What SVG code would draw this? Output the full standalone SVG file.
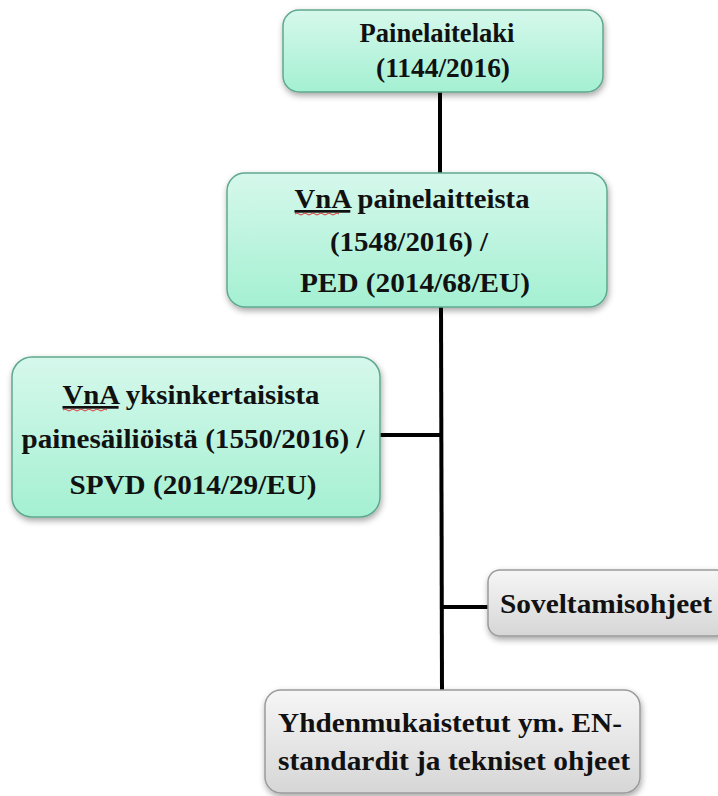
<svg xmlns="http://www.w3.org/2000/svg" width="718" height="796" viewBox="0 0 718 796">
<style>
.t{font-family:"Liberation Serif","Times New Roman",serif;font-weight:bold;font-size:27px;fill:#111;text-anchor:middle}
.g{fill:url(#gg);stroke:#5fa88d;stroke-width:1.5}
.s{fill:url(#gs);stroke:#9a9a9a;stroke-width:1.5}
.c{stroke:#000;stroke-width:4;fill:none}
</style>
<defs>
<linearGradient id="gg" x1="0" y1="0" x2="0" y2="1">
<stop offset="0" stop-color="#d6f8ec"/>
<stop offset="1" stop-color="#a4f0d2"/>
</linearGradient>
<linearGradient id="gs" x1="0" y1="0" x2="0" y2="1">
<stop offset="0" stop-color="#f6f6f6"/>
<stop offset="1" stop-color="#d6d6d6"/>
</linearGradient>
<filter id="sh" x="-10%" y="-10%" width="120%" height="130%">
<feDropShadow dx="1" dy="3" stdDeviation="3" flood-color="#000" flood-opacity="0.35"/>
</filter>
</defs>
<rect width="718" height="796" fill="#fff"/>
<g id="connectors">
<line class="c" x1="440" y1="90" x2="440" y2="175"/>
<line class="c" x1="441" y1="305" x2="442" y2="692"/>
<line class="c" x1="380" y1="435" x2="441" y2="435"/>
<line class="c" x1="442" y1="607" x2="489" y2="607"/>
</g>
<g id="n1">
<rect class="g" x="283" y="10" width="320" height="82" rx="16" filter="url(#sh)"/>
<text class="t" x="437" y="42" textLength="155" lengthAdjust="spacingAndGlyphs">Painelaitelaki</text>
<text class="t" x="443" y="77" textLength="134" lengthAdjust="spacingAndGlyphs">(1144/2016)</text>
</g>
<g id="n2">
<rect class="g" x="227" y="173" width="380" height="134" rx="18" filter="url(#sh)"/>
<text class="t" x="412" y="208" textLength="235" lengthAdjust="spacingAndGlyphs"><tspan text-decoration="underline">VnA</tspan> painelaitteista</text>
<text class="t" x="409" y="251" textLength="158" lengthAdjust="spacingAndGlyphs">(1548/2016) /</text>
<text class="t" x="415" y="292" textLength="230" lengthAdjust="spacingAndGlyphs">PED (2014/68/EU)</text>
<path d="M295 214 q2 -2 4 0 t4 0 t4 0 t4 0 t4 0 t4 0 t4 0 t4 0 t4 0 t4 0 t4 0" stroke="#e03030" stroke-width="1" fill="none"/>
</g>
<g id="n3">
<rect class="g" x="12" y="357" width="368" height="160" rx="20" filter="url(#sh)"/>
<text class="t" x="191" y="404" textLength="257" lengthAdjust="spacingAndGlyphs"><tspan text-decoration="underline">VnA</tspan> yksinkertaisista</text>
<text class="t" x="193" y="448" textLength="343" lengthAdjust="spacingAndGlyphs">painesäiliöistä (1550/2016) /</text>
<text class="t" x="193" y="494" textLength="247" lengthAdjust="spacingAndGlyphs">SPVD (2014/29/EU)</text>
<path d="M63 410 q2 -2 4 0 t4 0 t4 0 t4 0 t4 0 t4 0 t4 0 t4 0 t4 0 t4 0 t4 0" stroke="#e03030" stroke-width="1" fill="none"/>
</g>
<g id="n4">
<rect class="s" x="488" y="570" width="240" height="66" rx="12" filter="url(#sh)"/>
<text class="t" x="606" y="613" textLength="212" lengthAdjust="spacingAndGlyphs">Soveltamisohjeet</text>
</g>
<g id="n5">
<rect class="s" x="265" y="690" width="375" height="103" rx="16" filter="url(#sh)"/>
<text class="t" x="450" y="732" textLength="344" lengthAdjust="spacingAndGlyphs">Yhdenmukaistetut ym. EN-</text>
<text class="t" x="454" y="770" textLength="352" lengthAdjust="spacingAndGlyphs">standardit ja tekniset ohjeet</text>
</g>
</svg>
